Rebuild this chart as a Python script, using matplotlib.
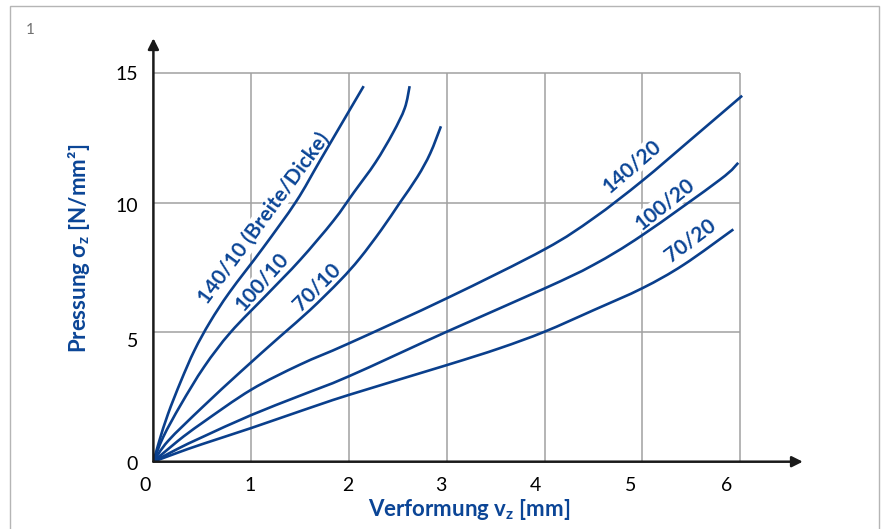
import matplotlib.pyplot as plt
import matplotlib.transforms as mtransforms
from matplotlib.patches import Rectangle, PathPatch
from matplotlib.path import Path

# Pressung / Verformung curves
x_140_10 = [0, 0.06, 0.15, 0.28, 0.42, 0.58, 0.78, 1.12, 1.46, 1.70, 2.01, 2.15]
y_140_10 = [0, 0.8, 1.85, 3.1, 4.3, 5.4, 6.55, 8.25, 10.05, 11.6, 13.6, 14.5]

x_100_10 = [0, 0.10, 0.28, 0.52, 0.79, 1.16, 1.50, 1.84, 2.05, 2.27, 2.45, 2.57, 2.62]
y_100_10 = [0, 0.95, 2.2, 3.67, 5.0, 6.45, 7.79, 9.3, 10.4, 11.55, 12.7, 13.65, 14.5]

x_70_10 = [0, 0.15, 0.5, 0.9, 1.3, 1.6, 1.91, 2.11, 2.33, 2.52, 2.70, 2.83, 2.94]
y_70_10 = [0, 0.8, 2.1, 3.5, 4.85, 5.85, 7.0, 7.85, 8.95, 10.0, 11.0, 11.9, 12.95]

x_140_20 = [0, 0.25, 0.5, 1.0, 1.5, 2.0, 3.0, 4.0, 4.5, 5.0, 5.49, 6.02]
y_140_20 = [0, 0.8, 1.5, 2.78, 3.75, 4.57, 6.31, 8.2, 9.4, 10.85, 12.42, 14.13]

x_100_20 = [0, 0.25, 0.5, 1.0, 1.5, 2.0, 3.0, 4.0, 4.5, 5.0, 5.79, 5.98]
y_100_20 = [0, 0.5, 0.95, 1.8, 2.55, 3.3, 5.02, 6.69, 7.6, 8.75, 10.88, 11.54]

x_70_20 = [0, 0.25, 0.5, 1.0, 1.5, 2.0, 3.0, 3.54, 4.0, 4.5, 5.0, 5.42, 5.93]
y_70_20 = [0, 0.35, 0.68, 1.3, 1.95, 2.58, 3.73, 4.38, 5.02, 5.85, 6.7, 7.6, 8.97]

curves = [(x_140_10, y_140_10), (x_100_10, y_100_10), (x_70_10, y_70_10),
          (x_140_20, y_140_20), (x_100_20, y_100_20), (x_70_20, y_70_20)]
names = ['140/10 (Breite/Dicke)', '100/10', '70/10', '140/20', '100/20', '70/20']

xticks = [0, 1, 2, 3, 4, 5, 6]
yticks = [0, 5, 10, 15]

# label placement along the curves
lab_x = [1.13, 1.11, 1.67, 4.89, 5.23, 5.49]
lab_y = [9.4, 6.95, 6.76, 11.42, 9.95, 8.56]
lab_rot = [53.6, 48.6, 45, 40.7, 38.8, 37]

# the original tick texts sit a bit off their gridlines (pixels)
xlab_shift = [-8, -1, -1, -6, -9, -12, -14]
ylab_shift = [-1, -8, -2, 0]

line_col = '#0a3f8c'
text_col = '#0b4596'


def smooth_path(xs, ys):
    # smoothed line like a spreadsheet "smooth" series: bezier through the read points
    pts = list(zip(xs, ys))
    n = len(pts)
    verts = [pts[0]]
    codes = [Path.MOVETO]
    for i in range(n - 1):
        p0 = pts[i - 1] if i > 0 else pts[i]
        p1 = pts[i]
        p2 = pts[i + 1]
        p3 = pts[i + 2] if i + 2 < n else pts[i + 1]
        c1 = (p1[0] + (p2[0] - p0[0]) / 6, p1[1] + (p2[1] - p0[1]) / 6)
        c2 = (p2[0] - (p3[0] - p1[0]) / 6, p2[1] - (p3[1] - p1[1]) / 6)
        verts += [c1, c2, p2]
        codes += [Path.CURVE4] * 3
    return Path(verts, codes)


plt.rcParams['font.family'] = ['Lato', 'DejaVu Sans']
plt.rcParams['mathtext.fontset'] = 'custom'
plt.rcParams['mathtext.rm'] = 'Lato'
plt.rcParams['mathtext.bf'] = 'Lato:bold'

fig = plt.figure(figsize=(8.82, 5.29), dpi=100)
ax = fig.add_axes([153.4 / 882, 67.3 / 529, 6.7 * 97.8 / 882, 16.5 * 25.9 / 529])
ax.set_xlim(0, 6.7)
ax.set_ylim(0, 16.5)
for s in ax.spines.values():
    s.set_visible(False)

# grid only inside the 0..6 / 0..15 box
ax.vlines(xticks[1:], 0, yticks[-1], color='#a0a0a0', lw=1.1, zorder=1)
ax.hlines(yticks[1:], 0, xticks[-1], color='#a0a0a0', lw=1.1, zorder=1)

# axes with arrows
ax.annotate('', xy=(6.64, 0), xytext=(0, 0),
            arrowprops=dict(arrowstyle='-|>', color='#1a1a1a', lw=1.8, mutation_scale=16, shrinkA=0, shrinkB=0), zorder=5)
ax.annotate('', xy=(0, 16.35), xytext=(0, 0),
            arrowprops=dict(arrowstyle='-|>', color='#1a1a1a', lw=1.8, mutation_scale=16, shrinkA=0, shrinkB=0), zorder=5)

for (xs, ys) in curves:
    ax.add_patch(PathPatch(smooth_path(xs, ys), fill=False, edgecolor=line_col, lw=1.9, zorder=4))

for name, lx, ly, rot in zip(names, lab_x, lab_y, lab_rot):
    ax.text(lx, ly, name, rotation=rot, rotation_mode='anchor', ha='center', va='center',
            color=text_col, fontsize=15, fontweight='bold', zorder=3,
            bbox=dict(facecolor='white', edgecolor='none', pad=0.5))

ax.set_xticks(xticks)
ax.set_xticklabels([str(t) for t in xticks])
ax.set_yticks(yticks)
ax.set_yticklabels([str(t) for t in yticks])
ax.tick_params(length=0, labelsize=14, colors='black')
ax.tick_params(axis='x', pad=11)
ax.tick_params(axis='y', pad=11)

for lab, dx in zip(ax.get_xticklabels(), xlab_shift):
    lab.set_transform(lab.get_transform() + mtransforms.ScaledTranslation(dx / 100, 0, fig.dpi_scale_trans))
for lab, dy in zip(ax.get_yticklabels(), ylab_shift):
    lab.set_transform(lab.get_transform() + mtransforms.ScaledTranslation(0, dy / 100, fig.dpi_scale_trans))

ax.set_xlabel(r'Verformung v$_\mathbf{z}$ [mm]', color=text_col, fontsize=16, fontweight='bold')
ax.set_ylabel(r'Pressung σ$_\mathbf{z}$ [N/mm²]', color=text_col, fontsize=16, fontweight='bold')
ax.xaxis.set_label_coords(0.4816, -0.0826)
ax.yaxis.set_label_coords(-0.094, 0.50)

fig.add_artist(Rectangle((10 / 882, -0.05), 869 / 882, 1.05 - 5.7 / 529, transform=fig.transFigure,
                         fill=False, edgecolor='#b5b5b5', lw=1))
fig.text(30 / 882, 1 - 30 / 529, '1', color='#707070', fontsize=11, va='center', ha='center')

fig.savefig('out.png', dpi=100)
